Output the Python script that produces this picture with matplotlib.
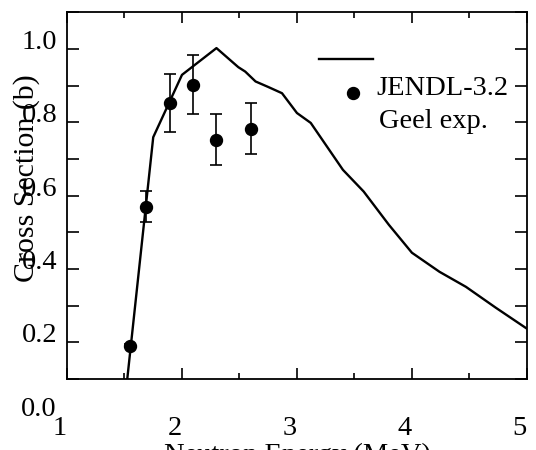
import numpy as np
import matplotlib.pyplot as plt
import matplotlib.transforms as mtransforms

plt.rcParams['font.family'] = ['Liberation Serif', 'DejaVu Serif']

# JENDL-3.2 evaluation
eval_x = [1.49, 1.75, 2.0, 2.3, 2.49, 2.55, 2.64, 2.75, 2.87, 3.0, 3.12,
          3.4, 3.58, 3.8, 4.0, 4.24, 4.47, 4.73, 5.0]
eval_y = [0.0, 0.759, 0.929, 1.002, 0.950, 0.938, 0.911, 0.896, 0.879, 0.825,
          0.798, 0.670, 0.611, 0.520, 0.444, 0.392, 0.351, 0.294, 0.237]

# Geel experiment
exp_x = [1.55, 1.69, 1.9, 2.1, 2.3, 2.6]
exp_y = [0.191, 0.570, 0.852, 0.902, 0.752, 0.782]
exp_err = [0.005, 0.041, 0.08, 0.08, 0.07, 0.07]

ytick_vals = [0.2, 0.4, 0.6, 0.8, 1.0]
xtick_vals = [1, 2, 3, 4, 5]

fig = plt.figure(figsize=(5.36, 4.5), dpi=100)
ax = fig.add_axes([0.125, 0.158, 0.858, 0.815])

ax.plot(eval_x, eval_y, color='black', lw=1.7)
ax.errorbar(exp_x, exp_y, yerr=exp_err, fmt='o', color='black', ms=8.6,
            elinewidth=1.2, capsize=4.3, capthick=1.2)

ax.set_xlim(1, 5)
ax.set_ylim(0.1, 1.1)

fs = 20.5
yt = np.round(np.arange(0.1, 1.15, 0.1), 1)
ax.set_xticks(xtick_vals)
ax.set_xticklabels([str(v) for v in xtick_vals])
ax.set_xticks(np.arange(1.5, 5, 1.0), minor=True)
ax.set_yticks(yt)
ax.set_yticklabels(['%.1f' % v if v in ytick_vals else '' for v in yt])

ax.tick_params(axis='x', which='major', direction='in', length=8, width=1.2,
               top=True, labelsize=fs, pad=27)
ax.tick_params(axis='x', which='minor', direction='in', length=4.5, width=1.2, top=True)
ax.tick_params(axis='y', which='major', direction='in', length=8.5, width=1.2,
               right=True, labelsize=fs, pad=7)

off = mtransforms.ScaledTranslation(-7/100, 0, fig.dpi_scale_trans)
for lab in ax.get_xticklabels():
    lab.set_transform(lab.get_transform() + off)
for lab in ax.get_yticklabels():
    lab.set_va('baseline')

ax.text(-0.022, 0.0, '0.0', transform=ax.get_yaxis_transform(), ha='right',
        va='baseline', fontsize=fs, clip_on=False)

for sp in ax.spines.values():
    sp.set_linewidth(1.3)

ax.set_xlabel('Neutron Energy (MeV)', fontsize=fs, labelpad=1)
ax.set_ylabel('Cross Section (b)', fontsize=21.5, va='center')
ax.yaxis.set_label_coords(-0.089, 0.548)

# legend drawn by hand
ax.plot([0.548, 0.665], [0.872, 0.872], transform=ax.transAxes, color='black', lw=1.7)
ax.plot([0.622], [0.779], 'o', transform=ax.transAxes, color='black', ms=8.6)
ax.text(0.672, 0.774, 'JENDL-3.2', transform=ax.transAxes, fontsize=fs, va='baseline')
ax.text(0.678, 0.684, 'Geel exp.', transform=ax.transAxes, fontsize=fs, va='baseline')

fig.savefig('out.png', dpi=100)
